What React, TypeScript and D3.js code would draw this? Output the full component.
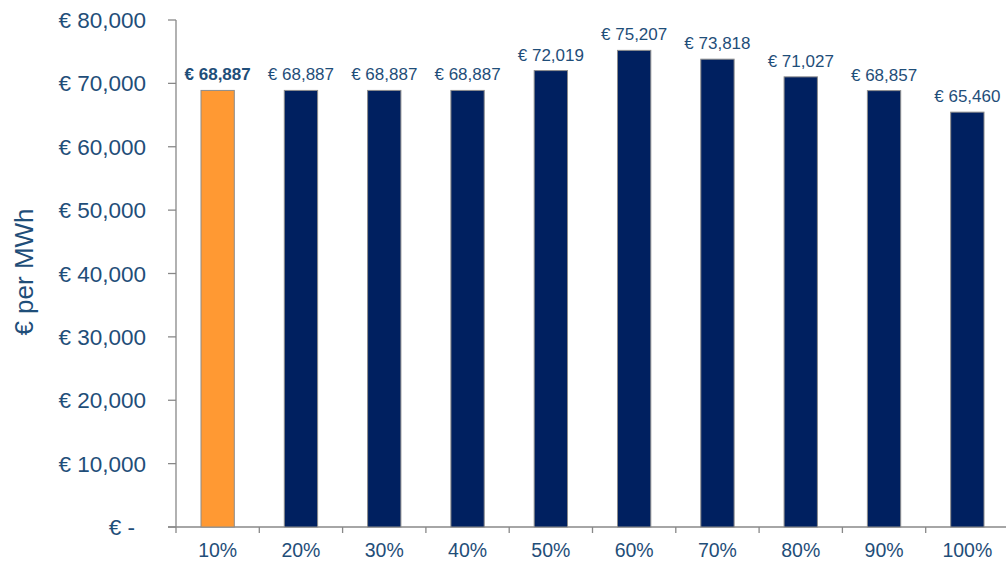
import React from "react";
import * as d3 from "d3";

const categories = ["10%", "20%", "30%", "40%", "50%", "60%", "70%", "80%", "90%", "100%"];
const values = [68887, 68887, 68887, 68887, 72019, 75207, 73818, 71027, 68857, 65460];
const highlightIndex = 0;
const yTicks = [0, 10000, 20000, 30000, 40000, 50000, 60000, 70000, 80000];
const yTitle = "€ per MWh";

const W = 1006, H = 562;
const left = 176, right = 1009, top = 20, bottom = 527;
const textColor = "#1F4E79";

export default function App() {
  const x = d3.scaleBand<string>().domain(categories).range([left, right]).paddingInner(0).paddingOuter(0);
  const y = d3.scaleLinear().domain([0, 80000]).range([bottom, top]);
  const bw = x.bandwidth() * 0.4;
  const fmt = d3.format(",");
  const font = "'Liberation Sans', Arial, sans-serif";
  return (
    <svg width={W} height={H} style={{ position: "absolute", left: 0, top: 0, background: "#fff" }} fontFamily={font}>
      <text transform={`translate(33,272) rotate(-90)`} textAnchor="middle" fontSize={26} fill={textColor}>{yTitle}</text>
      {yTicks.map((t) => (
        <g key={t}>
          <line x1={left - 8} x2={left} y1={y(t)} y2={y(t)} stroke="#888" strokeWidth={1.3} />
          <text x={t === 0 ? 135 : 146} y={y(t) + 8} textAnchor="end" fontSize={22.5} fill={textColor}>{t === 0 ? "€ -" : `€ ${fmt(t)}`}</text>
        </g>
      ))}
      <line x1={left} x2={left} y1={top} y2={bottom} stroke="#888" strokeWidth={1.3} />
      <line x1={left - 8} x2={right} y1={bottom} y2={bottom} stroke="#888" strokeWidth={1.3} />
      {categories.map((c) => (
        <line key={"t" + c} x1={x(c)!} x2={x(c)!} y1={bottom} y2={bottom + 6} stroke="#888" strokeWidth={1.3} />
      ))}
      {categories.map((c, i) => {
        const cx = x(c)! + x.bandwidth() / 2;
        const v = values[i];
        return (
          <g key={c}>
            <rect x={cx - bw / 2} y={y(v)} width={bw} height={bottom - y(v)} fill={i === highlightIndex ? "#FF9933" : "#002060"} stroke="#8c8c8c" strokeWidth={1} />
            <text x={cx} y={y(v) - 10} textAnchor="middle" fontSize={17} fontWeight={i === highlightIndex ? "bold" : "normal"} fill={textColor}>{`€ ${fmt(v)}`}</text>
            <text x={cx} y={557} textAnchor="middle" fontSize={19.5} fill={textColor}>{c}</text>
          </g>
        );
      })}
    </svg>
  );
}
